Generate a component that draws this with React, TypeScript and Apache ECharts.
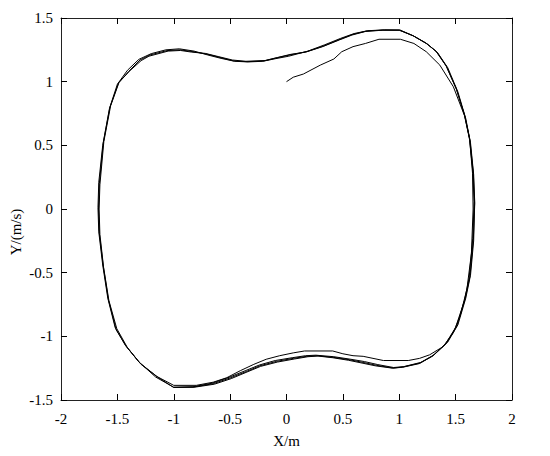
import React, { useEffect, useRef } from "react";
import * as echarts from "echarts";

// Transient part: starts at (0, 1) and approaches the limit cycle
const pass1: number[][] = [
  [0, 1.0], [0.06, 1.035], [0.15, 1.06], [0.3, 1.13], [0.42, 1.178], [0.49, 1.235],
  [0.59, 1.275], [0.7, 1.3], [0.82, 1.333], [1.01, 1.333], [1.13, 1.3], [1.24, 1.235],
  [1.36, 1.13], [1.48, 0.96], [1.58, 0.73], [1.625, 0.54], [1.65, 0.28], [1.655, 0],
  [1.64, -0.35], [1.6, -0.63], [1.54, -0.84], [1.48, -0.97], [1.39, -1.08], [1.27, -1.145],
  [1.18, -1.173], [1.08, -1.19], [0.86, -1.19], [0.68, -1.157], [0.59, -1.152], [0.5, -1.137],
  [0.41, -1.115], [0.16, -1.115], [0.06, -1.13], [-0.06, -1.152], [-0.18, -1.18], [-0.29, -1.22],
  [-0.41, -1.27], [-0.53, -1.325], [-0.65, -1.36], [-0.8, -1.385], [-1.0, -1.385],
];

// Loops on the limit cycle
const pass2: number[][] = [
  [-1.15, -1.315], [-1.3, -1.21], [-1.42, -1.08], [-1.51, -0.95], [-1.58, -0.71],
  [-1.625, -0.45], [-1.66, -0.19], [-1.667, 0], [-1.66, 0.2], [-1.625, 0.52], [-1.566, 0.8],
  [-1.49, 0.99], [-1.4, 1.08], [-1.3, 1.17], [-1.21, 1.21], [-1.06, 1.244], [-0.945, 1.25],
  [-0.83, 1.236], [-0.71, 1.217], [-0.59, 1.19], [-0.47, 1.163], [-0.35, 1.157], [-0.2, 1.163],
  [-0.09, 1.186], [0.03, 1.21], [0.18, 1.236], [0.33, 1.28], [0.475, 1.333], [0.59, 1.372],
  [0.71, 1.398], [0.86, 1.405], [1.0, 1.405], [1.125, 1.36], [1.24, 1.3], [1.33, 1.236],
  [1.42, 1.118], [1.51, 0.935], [1.583, 0.726], [1.627, 0.54], [1.657, 0.28], [1.67, 0.05],
  [1.657, -0.24], [1.627, -0.53], [1.583, -0.71], [1.51, -0.92], [1.42, -1.053], [1.3, -1.152],
  [1.184, -1.21], [1.036, -1.24], [0.948, -1.249], [0.8, -1.228], [0.68, -1.205], [0.56, -1.184],
  [0.415, -1.165], [0.27, -1.152], [0.18, -1.157], [0.06, -1.173], [-0.09, -1.197],
  [-0.235, -1.231], [-0.353, -1.275], [-0.5, -1.327], [-0.65, -1.372], [-0.826, -1.398], [-1.0, -1.4],
];

const pass3: number[][] = [
  [-1.16, -1.32], [-1.31, -1.2], [-1.43, -1.07], [-1.52, -0.93], [-1.585, -0.7],
  [-1.63, -0.44], [-1.665, -0.18], [-1.672, 0.01], [-1.665, 0.21], [-1.63, 0.5], [-1.57, 0.79],
  [-1.5, 0.98], [-1.41, 1.09], [-1.31, 1.175], [-1.2, 1.22], [-1.07, 1.25], [-0.95, 1.258],
  [-0.82, 1.24], [-0.7, 1.21], [-0.58, 1.183], [-0.46, 1.16], [-0.34, 1.155], [-0.21, 1.16],
  [-0.1, 1.18], [0.02, 1.2], [0.19, 1.24], [0.34, 1.29], [0.48, 1.34], [0.6, 1.378],
  [0.72, 1.4], [0.87, 1.407], [1.01, 1.405], [1.13, 1.357], [1.25, 1.295], [1.34, 1.228],
  [1.43, 1.11], [1.52, 0.92], [1.59, 0.71], [1.632, 0.52], [1.66, 0.27], [1.668, 0.04],
  [1.66, -0.25], [1.632, -0.52], [1.59, -0.7], [1.52, -0.91], [1.43, -1.045], [1.31, -1.145],
  [1.19, -1.205], [1.04, -1.238], [0.95, -1.245], [0.81, -1.222], [0.69, -1.198], [0.57, -1.18],
  [0.42, -1.16], [0.26, -1.148], [0.17, -1.152], [0.05, -1.168], [-0.1, -1.19],
  [-0.24, -1.225], [-0.36, -1.268], [-0.51, -1.322], [-0.66, -1.368], [-0.83, -1.396], [-1.0, -1.402],
];

const pass4: number[][] = [
  [-1.14, -1.322], [-1.29, -1.22], [-1.41, -1.09], [-1.505, -0.94], [-1.575, -0.72],
  [-1.622, -0.46], [-1.655, -0.2], [-1.662, 0], [-1.655, 0.19], [-1.62, 0.53], [-1.56, 0.81],
  [-1.485, 0.995], [-1.39, 1.085], [-1.29, 1.165], [-1.22, 1.2], [-1.05, 1.24], [-0.94, 1.245],
  [-0.84, 1.232], [-0.72, 1.222], [-0.6, 1.196], [-0.48, 1.17], [-0.36, 1.16], [-0.19, 1.166],
  [-0.08, 1.19], [0.04, 1.215], [0.17, 1.232], [0.32, 1.275], [0.47, 1.328], [0.58, 1.366],
  [0.7, 1.394], [0.85, 1.404], [1.0, 1.404], [1.12, 1.362], [1.235, 1.305], [1.325, 1.24],
  [1.415, 1.125], [1.505, 0.945], [1.578, 0.74], [1.622, 0.56], [1.652, 0.3], [1.664, 0.06],
  [1.652, -0.23], [1.62, -0.54], [1.578, -0.72], [1.5, -0.93], [1.41, -1.06], [1.29, -1.158],
  [1.178, -1.214], [1.03, -1.243], [0.94, -1.25], [0.79, -1.232], [0.67, -1.21], [0.55, -1.188],
  [0.41, -1.168], [0.28, -1.155], [0.19, -1.16], [0.07, -1.178], [-0.08, -1.202],
  [-0.23, -1.236], [-0.35, -1.28], [-0.49, -1.332], [-0.64, -1.376], [-0.82, -1.4], [-1.0, -1.4],
];

const xTicks = [-2, -1.5, -1, -0.5, 0, 0.5, 1, 1.5, 2];
const yTicks = [-1.5, -1, -0.5, 0, 0.5, 1, 1.5];

const font = "Liberation Serif, Times New Roman, serif";

export default function App() {
  const ref = useRef<HTMLDivElement>(null);
  useEffect(() => {
    if (!ref.current) return;
    const chart = echarts.init(ref.current, undefined, { renderer: "svg" });
    const trajectory = [...pass1, ...pass2, ...pass3, ...pass4];
    const lineColor = "#222";
    const tickStyle = {
      show: true,
      inside: true,
      length: 6,
      lineStyle: { color: "#000", width: 1, opacity: 1 },
    };
    const axisLineStyle = { show: true, onZero: false, lineStyle: { color: lineColor, width: 1 } };
    chart.setOption({
      animation: false,
      backgroundColor: "#fff",
      textStyle: { fontFamily: font },
      grid: {
        left: 53,
        top: 10,
        width: 451,
        height: 382,
        containLabel: false,
        outerBoundsMode: "none",
      },
      xAxis: [
        {
          type: "value",
          min: xTicks[0],
          max: xTicks[xTicks.length - 1],
          interval: 0.5,
          position: "bottom",
          axisLine: axisLineStyle,
          axisTick: tickStyle,
          splitLine: { show: false },
          name: "X/m",
          nameLocation: "middle",
          nameGap: 33,
          nameTextStyle: { fontFamily: font, fontSize: 15, color: "#000" },
          axisLabel: {
            margin: 11,
            fontFamily: font,
            fontSize: 15,
            color: "#000",
            formatter: (v: number) => String(v),
          },
        },
        {
          type: "value",
          min: xTicks[0],
          max: xTicks[xTicks.length - 1],
          interval: 0.5,
          position: "top",
          axisLine: axisLineStyle,
          axisTick: tickStyle,
          splitLine: { show: false },
          axisLabel: { show: false },
        },
      ],
      yAxis: [
        {
          type: "value",
          min: yTicks[0],
          max: yTicks[yTicks.length - 1],
          interval: 0.5,
          position: "left",
          axisLine: axisLineStyle,
          axisTick: tickStyle,
          splitLine: { show: false },
          axisLabel: {
            margin: 8,
            fontFamily: font,
            fontSize: 15,
            color: "#000",
            formatter: (v: number) => String(v),
          },
        },
        {
          type: "value",
          min: yTicks[0],
          max: yTicks[yTicks.length - 1],
          interval: 0.5,
          position: "right",
          axisLine: axisLineStyle,
          axisTick: tickStyle,
          splitLine: { show: false },
          axisLabel: { show: false },
        },
      ],
      graphic: [
        {
          type: "text",
          left: 0,
          top: "middle",
          rotation: Math.PI / 2,
          style: {
            text: "Y/(m/s)",
            fontFamily: font,
            fontSize: 15,
            fill: "#000",
          },
        },
      ],
      series: [
        {
          type: "line",
          data: trajectory,
          showSymbol: false,
          symbol: "none",
          smooth: false,
          lineStyle: { color: "#000", width: 1 },
          xAxisIndex: 0,
          yAxisIndex: 0,
        },
      ],
    });
    return () => chart.dispose();
  }, []);
  return <div ref={ref} style={{ width: 542, height: 448 }} />;
}
